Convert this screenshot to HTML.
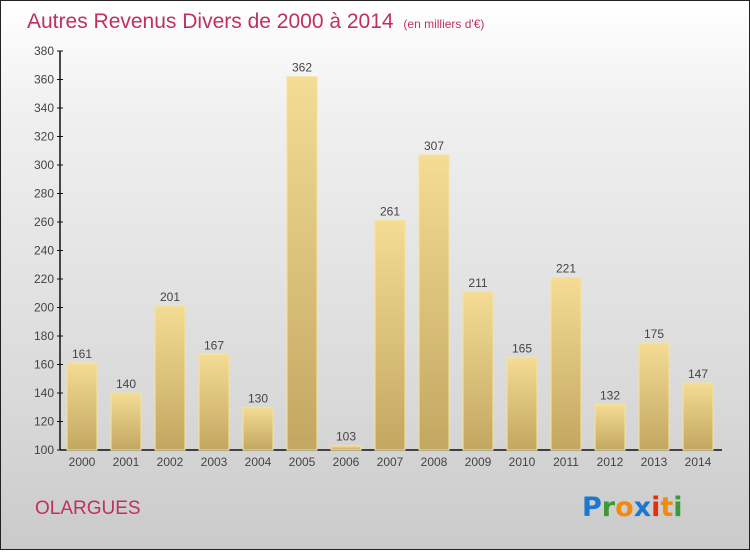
<!DOCTYPE html>
<html><head><meta charset="utf-8"><style>
html,body{margin:0;padding:0}
body{width:750px;height:550px;overflow:hidden;font-family:"Liberation Sans",sans-serif}
#wrap{position:absolute;left:0;top:0;width:748px;height:548px;border:1px solid #222;background:linear-gradient(#ffffff,#f0f0f0 20%,#d8d8d8 75%,#cacaca)}
</style></head><body>
<div id="wrap">
<svg width="748" height="548" viewBox="1 1 748 548" xmlns="http://www.w3.org/2000/svg" id="svg">
<defs><linearGradient id="bg" x1="0" y1="0" x2="0" y2="1"><stop offset="0" stop-color="#f4dc94"/><stop offset="1" stop-color="#c2a761"/></linearGradient></defs>
<text x="27" y="28" font-size="21" fill="#c0305e">Autres Revenus Divers de 2000 à 2014 <tspan font-size="12" dx="4">(en milliers d'€)</tspan></text>
<g id="axes"></g><g id="bars"></g>
<text x="35" y="514" font-size="19" fill="#c0305e">OLARGUES</text>
<g font-size="27" font-weight="bold" font-family="'DejaVu Sans',sans-serif">
<text x="582" y="516"><tspan fill="#1a78d0">P</tspan><tspan fill="#3a9a3a">r</tspan><tspan fill="#f08a10">o</tspan><tspan fill="#1a78d0">x</tspan><tspan fill="#e03010">i</tspan><tspan fill="#f08a10">t</tspan><tspan fill="#3a9a3a">i</tspan></text></g>
</svg></div>
<script>
const years=["2000","2001","2002","2003","2004","2005","2006","2007","2008","2009","2010","2011","2012","2013","2014"];
const values=[161,140,201,167,130,362,103,261,307,211,165,221,132,175,147];
const yTicks=[100,120,140,160,180,200,220,240,260,280,300,320,340,360,380];
const NS="http://www.w3.org/2000/svg";
const yMin=100,yMax=380,y0=450,y1=51;
function yS(v){return y0-(v-yMin)/(yMax-yMin)*(y0-y1);}
function xS(i){return 82+i*44;}
const ax=document.getElementById('axes'),bg=document.getElementById('bars');
function mk(tag,at,par){const e=document.createElementNS(NS,tag);for(const k in at)e.setAttribute(k,at[k]);par.appendChild(e);return e;}
let l=mk('line',{x1:60,y1:y1,x2:60,y2:y0,stroke:'#111','stroke-width':1.5},ax);


l=mk('line',{x1:60,y1:y0,x2:722,y2:y0,stroke:'#111','stroke-width':1.5},ax);


yTicks.forEach(t=>{const y=yS(t);
mk('line',{x1:57,y1:y,x2:63,y2:y,stroke:'#111'},ax);
const tx=mk('text',{x:54,y:y+4,'font-size':12,fill:'#444','text-anchor':'end'},ax);tx.textContent=t;

});
years.forEach((yr,i)=>{const c=xS(i),v=values[i],top=yS(v);
const r=mk('rect',{x:c-15,y:top,width:30,height:y0-top,fill:'url(#bg)',stroke:'#f6e39a','stroke-width':1},bg);


const vl=mk('text',{x:c,y:top-5,'font-size':12,fill:'#444','text-anchor':'middle'},bg);vl.textContent=v;


const xl=mk('text',{x:c,y:466,'font-size':12,fill:'#444','text-anchor':'middle'},ax);xl.textContent=yr;

});
</script>
</body></html>
